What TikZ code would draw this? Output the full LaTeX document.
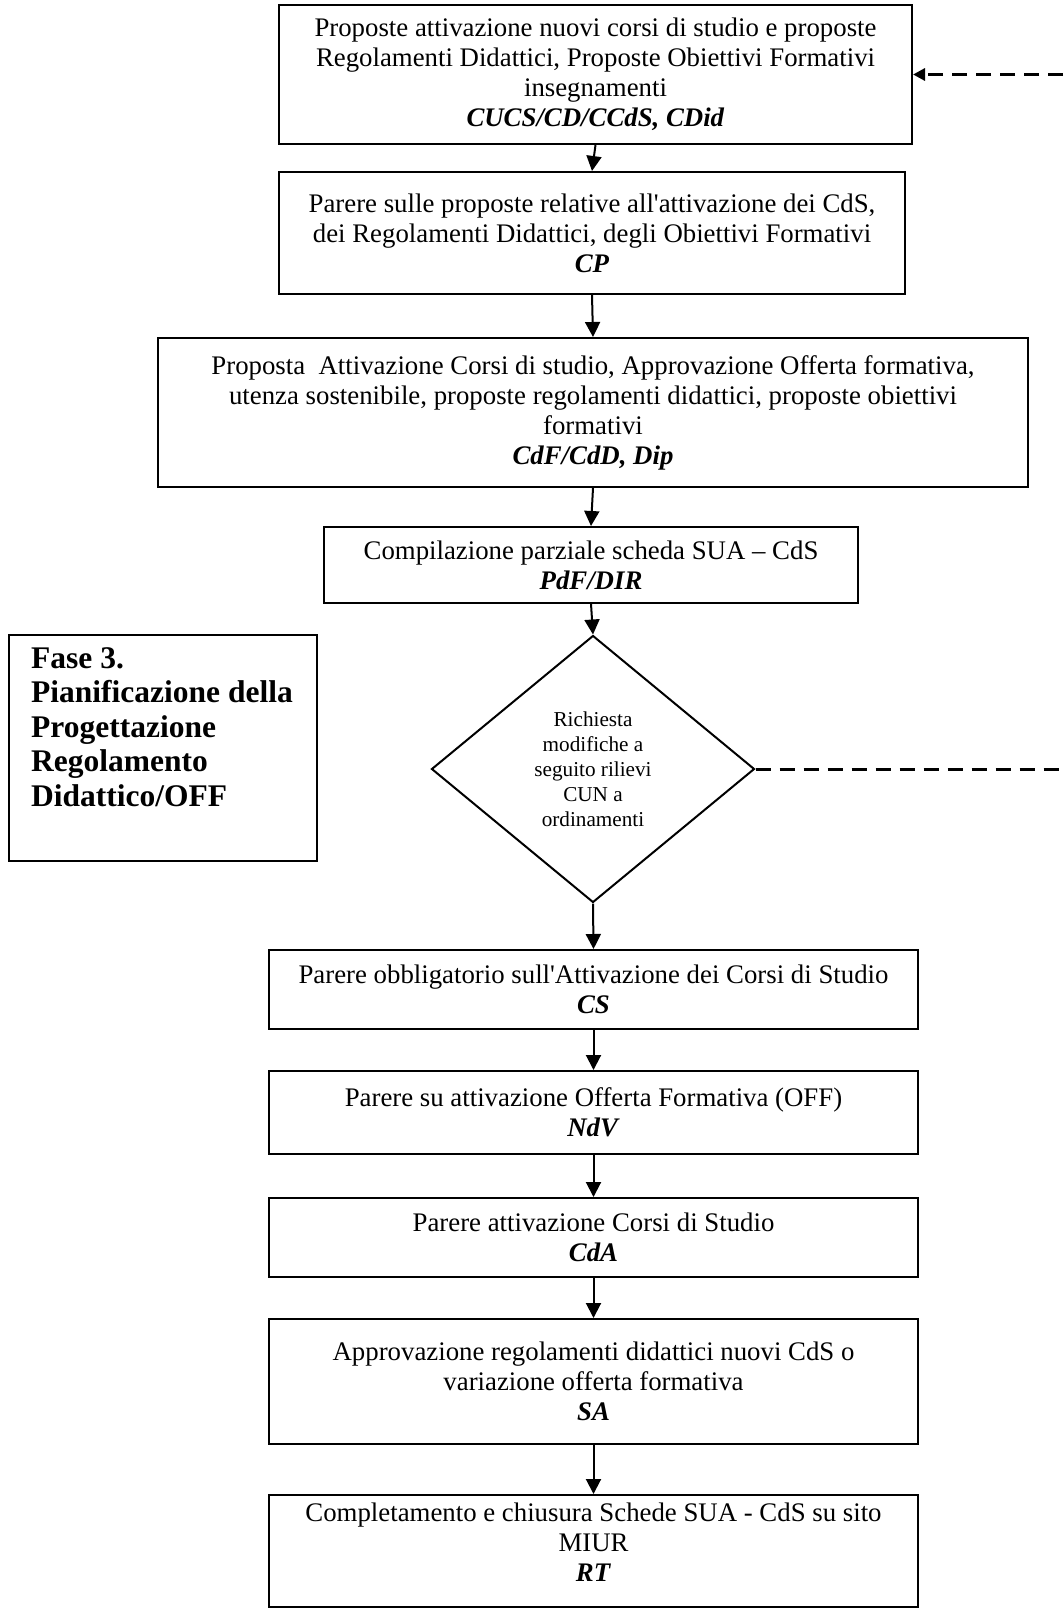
\documentclass[tikz,border=0pt]{standalone}
\usepackage{fontspec}
\setmainfont{Liberation Serif}
\usepackage{tikz}
\usetikzlibrary{arrows.meta, shapes.geometric}

\newcommand{\boxfont}{\fontsize{26.8pt}{30pt}\selectfont}
\newcommand{\rhombfont}{\fontsize{21.2pt}{25pt}\selectfont}
\newcommand{\phasefont}{\fontsize{31.5pt}{34.5pt}\selectfont\bfseries}
\newcommand{\actor}[1]{\textbf{\textit{#1}}}

\begin{document}
\begin{tikzpicture}[x=1pt, y=-1pt,
    stepbox/.style={draw, line width=2pt, align=center, font=\boxfont, inner sep=0pt},
    flow/.style={line width=2pt, -{Triangle[length=15pt, width=15pt]}},
    feedback/.style={line width=3pt, dash pattern=on 15pt off 9pt, -{Triangle[length=12pt, width=12pt]}}]
    \useasboundingbox (0,0) rectangle (1063,1609);
    \node (prop) [stepbox, minimum width=633pt, minimum height=139pt] at (595.5,74.5)
        {Proposte attivazione nuovi corsi di studio e proposte\\Regolamenti Didattici, Proposte Obiettivi Formativi\\insegnamenti\\\actor{CUCS/CD/CCdS, CDid}};
    \node (cp) [stepbox, minimum width=626pt, minimum height=122pt] at (592,233)
        {Parere sulle proposte relative all\textquotesingle attivazione dei CdS,\\dei Regolamenti Didattici, degli Obiettivi Formativi\\\actor{CP}};
    \node (cdf) [stepbox, minimum width=870pt, minimum height=149pt] at (593,412.5)
        {Proposta\ \ Attivazione Corsi di studio, Approvazione Offerta formativa,\\utenza sostenibile, proposte regolamenti didattici, proposte obiettivi\\formativi\\\actor{CdF/CdD, Dip}};
    \node (sua) [stepbox, minimum width=534pt, minimum height=76pt] at (591,565)
        {Compilazione parziale scheda SUA – CdS\\\actor{PdF/DIR}};
    \node (cun) [diamond, draw, line width=2pt, inner sep=0pt, minimum width=323pt, minimum height=267pt, align=center, font=\rhombfont] at (593,769)
        {Richiesta\\modifiche a\\seguito rilievi\\CUN a\\ordinamenti};
    \node (cs) [stepbox, minimum width=649pt, minimum height=79pt] at (593.5,989.5)
        {Parere obbligatorio sull\textquotesingle Attivazione dei Corsi di Studio\\\actor{CS}};
    \node (ndv) [stepbox, minimum width=649pt, minimum height=83pt] at (593.5,1112.5)
        {Parere su attivazione Offerta Formativa (OFF)\\\actor{NdV}};
    \node (cda) [stepbox, minimum width=649pt, minimum height=79pt] at (593.5,1237.5)
        {Parere attivazione Corsi di Studio\\\actor{CdA}};
    \node (sa) [stepbox, minimum width=649pt, minimum height=125pt] at (593.5,1381.5)
        {Approvazione regolamenti didattici nuovi CdS o\\variazione offerta formativa\\\actor{SA}};
    \node (rt) [stepbox, minimum width=649pt, minimum height=112pt, text depth=18pt] at (593.5,1551)
        {Completamento e chiusura Schede SUA - CdS su sito\\MIUR\\\actor{RT}};
    % Phase title
    \node (phase) [draw, line width=2pt, minimum width=308pt, minimum height=226pt,
        label={[anchor=north west, align=left, font=\phasefont, inner sep=0pt, xshift=23pt, yshift=-13pt]north west:Fase 3.\\Pianificazione della\\Progettazione\\Regolamento\\Didattico/OFF}] at (163,748) {};
    % Main flow
    \draw [flow] (prop.south) -- (cp.north);
    \draw [flow] (cp.south) -- (cdf.north);
    \draw [flow] (cdf.south) -- (sua.north);
    \draw [flow] (sua.south) -- (cun.north);
    \draw [flow] (cun.south) -- (cs.north);
    \draw [flow] (cs.south) -- (ndv.north);
    \draw [flow] (ndv.south) -- (cda.north);
    \draw [flow] (cda.south) -- (sa.north);
    \draw [flow] (sa.south) -- (rt.north);
    % Return path for CUN remarks
    \coordinate (loop) at (1090,769);
    \draw [feedback] (cun.east) -- (loop) |- (prop.east);
\end{tikzpicture}
\end{document}
